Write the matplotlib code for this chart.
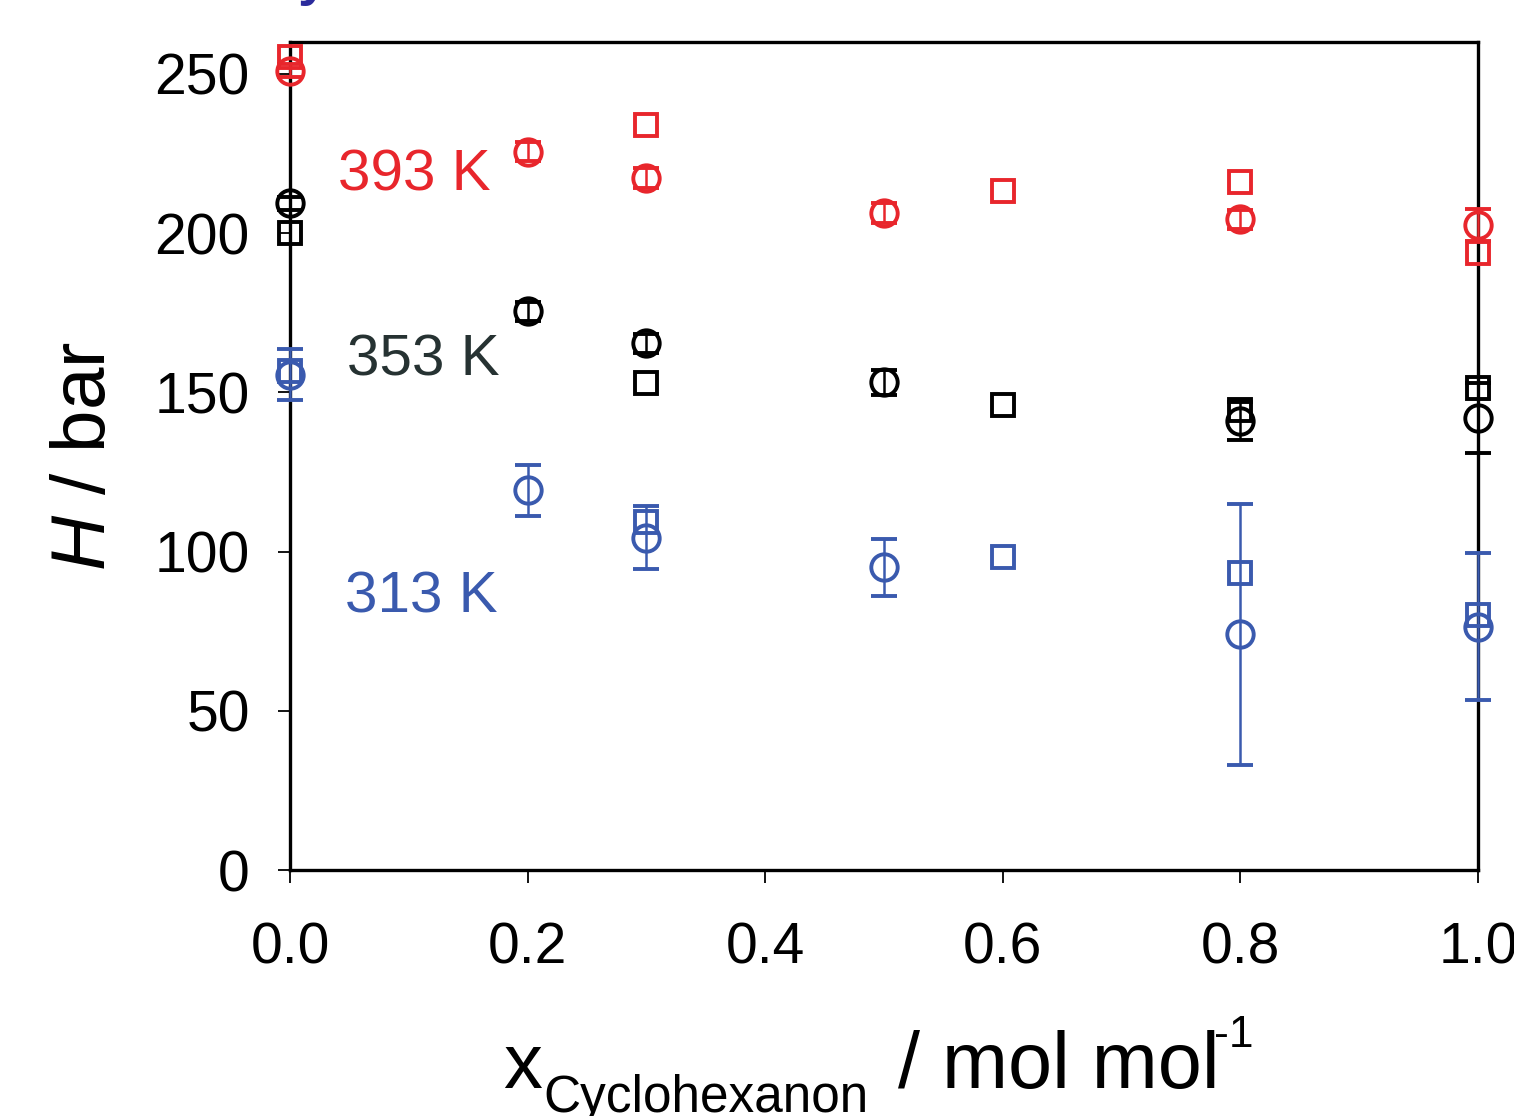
import numpy as np
import matplotlib
matplotlib.use("Agg")
import matplotlib.pyplot as plt

plt.rcParams['font.family'] = ['Liberation Sans', 'DejaVu Sans']
plt.rcParams['mathtext.fontset'] = 'custom'
plt.rcParams['mathtext.rm'] = 'Liberation Sans'
plt.rcParams['mathtext.it'] = 'Liberation Sans:italic'

# mole fraction of cyclohexanone
x_circ = [0.0, 0.2, 0.3, 0.5, 0.8, 1.0]
x_sq = [0.0, 0.3, 0.6, 0.8, 1.0]

# 393 K
h393_circ = [251, 225.5, 217.3, 206.3, 204.4, 202.5]
e393_circ = [2, 3, 3, 3, 3, 5]
h393_sq = [255.3, 234, 213.2, 216, 193.7]

# 353 K
h353_circ = [209.4, 175.5, 165.4, 153.1, 141, 142]
e353_circ = [2, 3, 3, 4, 6, 11]
h353_sq = [200, 152.8, 146, 144.3, 151.3]

# 313 K
h313_circ = [155.5, 119.2, 104.4, 95, 74, 76.4]
e313_circ = [8, 8, 10, 9, 41, 23]
h313_sq = [156.6, 109.4, 98.4, 93.4, 80]

red = '#e8262c'
blue = '#3a5aae'
black = '#000000'

fig = plt.figure(figsize=(15.14, 11.16), dpi=100)
ax = fig.add_axes([290/1514, 1-870/1116, 1188/1514, 828/1116])

series = [
    (h393_circ, e393_circ, h393_sq, red),
    (h353_circ, e353_circ, h353_sq, black),
    (h313_circ, e313_circ, h313_sq, blue),
]
for hc, ec, hs, col in series:
    ax.errorbar(x_circ, hc, yerr=ec, fmt='o', ms=19, mfc='none', mec=col,
                mew=2.8, ecolor=col, elinewidth=1.8, capsize=9.5, capthick=1.8,
                clip_on=False, zorder=3)
    ax.plot(x_sq, hs, 's', ms=16, mfc='none', mec=col, mew=2.8,
            clip_on=False, zorder=3)

ax.text(0.04, 218, '393 K', color=red, fontsize=42, va='center')
ax.text(0.048, 160, '353 K', color='#263232', fontsize=42, va='center')
ax.text(0.046, 85.5, '313 K', color=blue, fontsize=42, va='center')

ax.set_xlim(0, 1.0)
ax.set_ylim(0, 260)
ax.set_xticks([0.0, 0.2, 0.4, 0.6, 0.8, 1.0])
ax.set_xticklabels(['0.0', '0.2', '0.4', '0.6', '0.8', '1.0'])
ax.set_yticks([0, 50, 100, 150, 200, 250])
for s in ax.spines.values():
    s.set_linewidth(2.4)
ax.tick_params(axis='both', labelsize=41, width=1.3, length=9, direction='out')
ax.tick_params(axis='x', pad=28)
ax.tick_params(axis='y', pad=20)

ax.set_ylabel(r'$\mathit{H}$ / bar', fontsize=55)
ax.yaxis.set_label_coords(-0.142, 0.5)

# x axis label built from pieces (subscript / superscript)
W, Hf = 1514, 1116
fig.text(503/W, 1-1088/Hf, 'x', fontsize=56, va='baseline')
fig.text(543/W, 1-1112/Hf, 'Cyclohexanon', fontsize=37, va='baseline')
fig.text(898/W, 1-1088/Hf, '/ mol mol', fontsize=57, va='baseline')
fig.text(1214/W, 1-1047/Hf, '-1', fontsize=32, va='baseline')

# cut-off title fragment at top
fig.text(298/W, 1+6/Hf, 'y', color='#2b2b9c', fontsize=40,
         fontweight='bold', va='baseline')

fig.savefig('out.png', dpi=100)
